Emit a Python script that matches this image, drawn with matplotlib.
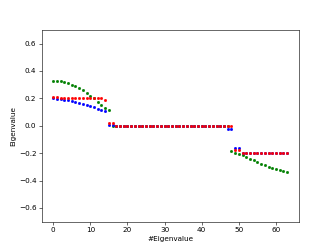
import numpy as np
import matplotlib
matplotlib.use("Agg")
import matplotlib.pyplot as plt

# eigenvalue spectra of three models
green_vals = ([0.33, 0.33, 0.325, 0.32, 0.31, 0.30, 0.29, 0.275, 0.26, 0.24,
               0.22, 0.20, 0.175, 0.15, 0.13, 0.115]
              + [0.0] * 32
              + [-0.184, -0.196, -0.206, -0.215, -0.228, -0.24, -0.252, -0.264,
                 -0.277, -0.288, -0.299, -0.306, -0.313, -0.32, -0.327, -0.335])
blue_vals = ([0.2, 0.198, 0.195, 0.19, 0.186, 0.181, 0.175, 0.168, 0.16, 0.152,
              0.144, 0.135, 0.125, 0.115, 0.107]
             + [0.003, 0.003]
             + [0.0] * 30
             + [-0.025, -0.025, -0.165, -0.165]
             + [-0.2] * 13)
red_vals = ([0.21, 0.21, 0.2, 0.2, 0.2, 0.2, 0.2, 0.2, 0.2, 0.2,
             0.2, 0.2, 0.2, 0.2, 0.188]
            + [0.018, 0.018]
            + [0.0] * 32
            + [-0.18, -0.18]
            + [-0.2] * 13)

x = np.arange(64)

fig, ax = plt.subplots(figsize=(6.4, 4.8), dpi=51.875)
ax.plot(x, green_vals, ".", color="green")
ax.plot(x, blue_vals, ".", color="blue")
ax.plot(x, red_vals, ".", color="red")
ax.set_ylim(-0.7, 0.7)
ax.set_xlabel("#Eigenvalue")
ax.set_ylabel("Eigenvalue")

plt.savefig("out.png", dpi=51.875)
plt.close()
